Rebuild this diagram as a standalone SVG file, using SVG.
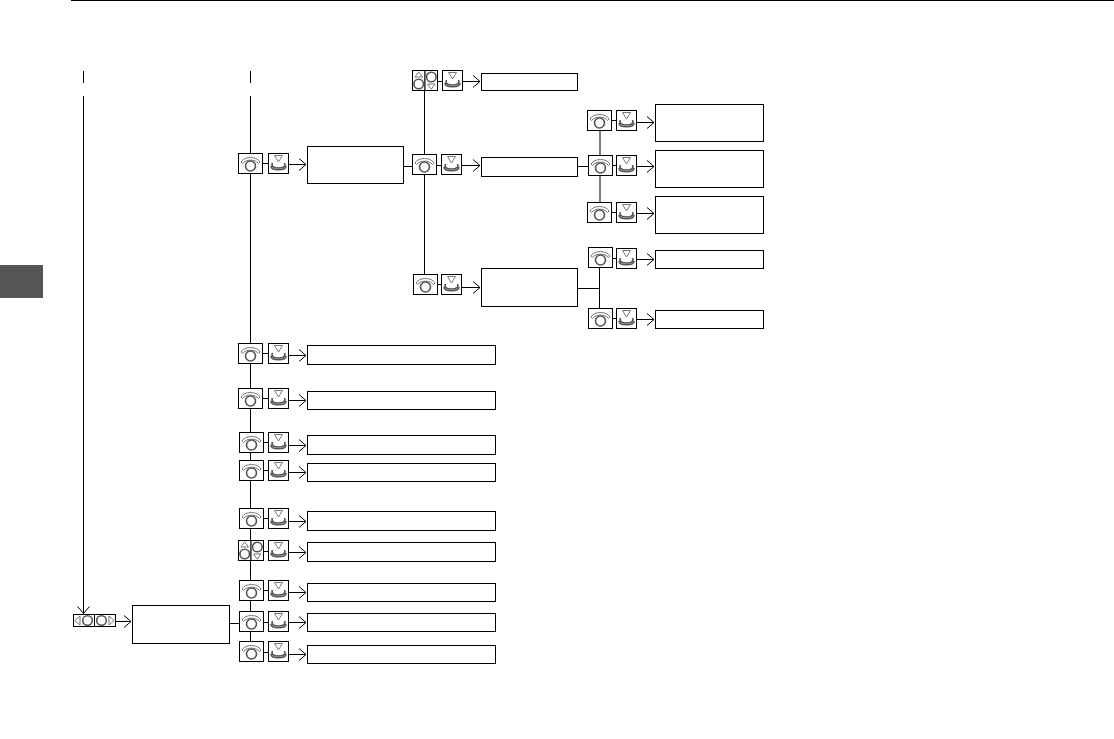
<svg xmlns="http://www.w3.org/2000/svg" xmlns:xlink="http://www.w3.org/1999/xlink" width="1114" height="739" viewBox="0 0 1114 739">
<style>
.l{stroke:#000;stroke-width:1;fill:none}
.b{stroke:#000;stroke-width:1;fill:#fff}
.g{stroke:#777;stroke-width:1;fill:none}
.d{stroke:#555;stroke-width:1.6;fill:none}
</style>
<defs>
<symbol id="rot" width="25" height="21" viewBox="0 0 25 21" overflow="visible">
<rect class="b" x="0.5" y="0.5" width="24" height="20"/>
<path class="g" d="M3 9C6 3 19 3 22 9L20.500 10.500C17 6 8 6 4.500 10.500Z"/>
<circle class="d" cx="12.500" cy="13" r="5"/>
</symbol>
<symbol id="push" width="21" height="21" viewBox="0 0 21 21" overflow="visible">
<rect class="b" x="0.500" y="0.500" width="20" height="20"/>
<path class="g" d="M6.500 2.500H14.500L10.500 9Z"/>
<path class="d" d="M4.500 10C3 13 5 15 10.500 15S18 13 16.500 10"/>
<path class="d" d="M3 13C3 18 18 18 18 13"/>
</symbol>
<symbol id="ud" width="26" height="21" viewBox="0 0 26 21" overflow="visible">
<rect class="b" x="0.500" y="0.500" width="12.500" height="20"/>
<rect class="b" x="13" y="0.500" width="12.500" height="20"/>
<path class="g" d="M3 7L6.700 1.800L10.500 7Z"/>
<circle class="d" cx="6.700" cy="14" r="4.800"/>
<path class="g" d="M15.500 14L19.300 19.200L23 14Z"/>
<circle class="d" cx="19.300" cy="7" r="4.800"/>
</symbol>
<symbol id="lr" width="43" height="13" viewBox="0 0 43 13" overflow="visible">
<rect class="b" x="0.500" y="0.500" width="21" height="12"/>
<rect class="b" x="21.500" y="0.500" width="21" height="12"/>
<path class="g" d="M7 2L1.800 6.500L7 11Z"/>
<circle class="d" cx="14.500" cy="6.500" r="4.800"/>
<path class="g" d="M36 2L41.200 6.500L36 11Z"/>
<circle class="d" cx="28.500" cy="6.500" r="4.800"/>
</symbol>
<marker id="a" markerUnits="userSpaceOnUse" markerWidth="10" markerHeight="14" refX="9" refY="7" orient="auto" overflow="visible">
<path d="M2 1L9 7L2 13" fill="none" stroke="#000" stroke-width="1"/>
</marker>
</defs>
<rect id="page-tab" x="0" y="265" width="43" height="33" fill="#555"/>
<path id="top-rule" class="l" d="M71 0.500H1114"/>
<g id="connectors">
<path class="l" d="M83.500 71V83M250.500 71V83M83.500 96V613.500" marker-end="url(#a)"/>
<path class="l" d="M250.500 96V642"/>
<path class="l" d="M424.500 90V275M403 166.500H413M578 166.500H589M600 130V203M578 288.500H599.500M599.500 267V309"/>
<path class="l" d="M230 623.500H240"/>
<path class="l" d="M263 163.500H269M612 120.500H617M612 165.500H617M612 212.500H617M612 258.500H617M612 318.500H617M437 81.500H443M437 165.500H442M437 284.500H443"/>
<path class="l" d="M263 353.500H269M263 398.500H269M263 442.500H269M263 470.500H269M263 518.500H269M263 551.500H269M263 590.500H269M263 622.500H269M263 652.500H269"/>
<g marker-end="url(#a)">
<path class="l" d="M288 164.500H306" marker-end="url(#a)"/>
<path class="l" d="M463 81.500H480" marker-end="url(#a)"/>
<path class="l" d="M461 165.500H480" marker-end="url(#a)"/>
<path class="l" d="M461 287.500H480" marker-end="url(#a)"/>
<path class="l" d="M636 122.500H654" marker-end="url(#a)"/>
<path class="l" d="M636 166.500H654" marker-end="url(#a)"/>
<path class="l" d="M636 213.500H654" marker-end="url(#a)"/>
<path class="l" d="M636 259.500H654" marker-end="url(#a)"/>
<path class="l" d="M636 319.500H654" marker-end="url(#a)"/>
<path class="l" d="M116 621.500H131" marker-end="url(#a)"/>
<path class="l" d="M288 355.500H306" marker-end="url(#a)"/>
<path class="l" d="M288 400.500H306" marker-end="url(#a)"/>
<path class="l" d="M288 445.500H306" marker-end="url(#a)"/>
<path class="l" d="M288 472.500H306" marker-end="url(#a)"/>
<path class="l" d="M288 521.500H306" marker-end="url(#a)"/>
<path class="l" d="M288 552.500H306" marker-end="url(#a)"/>
<path class="l" d="M288 592.500H306" marker-end="url(#a)"/>
<path class="l" d="M288 622.500H306" marker-end="url(#a)"/>
<path class="l" d="M288 654.500H306" marker-end="url(#a)"/>
</g>
</g>
<g id="controls">
<use href="#lr" x="73" y="614"/>
<use href="#rot" x="238" y="153"/><use href="#push" x="268" y="153"/>
<use href="#ud" x="412" y="70"/><use href="#push" x="442" y="70"/>
<use href="#rot" x="412" y="154"/><use href="#push" x="441" y="154"/>
<use href="#rot" x="413" y="274"/><use href="#push" x="441" y="274"/>
<use href="#rot" x="587" y="110"/><use href="#push" x="616" y="110"/>
<use href="#rot" x="588" y="155"/><use href="#push" x="616" y="155"/>
<use href="#rot" x="587" y="202"/><use href="#push" x="616" y="202"/>
<use href="#rot" x="588" y="247"/><use href="#push" x="616" y="248"/>
<use href="#rot" x="588" y="308"/><use href="#push" x="616" y="308"/>
<use href="#rot" x="238" y="343"/><use href="#push" x="268" y="343"/>
<use href="#rot" x="238" y="388"/><use href="#push" x="268" y="388"/>
<use href="#rot" x="239" y="432"/><use href="#push" x="268" y="432"/>
<use href="#rot" x="239" y="460"/><use href="#push" x="268" y="460"/>
<use href="#rot" x="239" y="508"/><use href="#push" x="268" y="508"/>
<use href="#ud" x="238" y="540"/><use href="#push" x="268" y="540"/>
<use href="#rot" x="239" y="580"/><use href="#push" x="268" y="580"/>
<use href="#rot" x="239" y="611"/><use href="#push" x="268" y="611"/>
<use href="#rot" x="239" y="641"/><use href="#push" x="268" y="641"/>
</g>
<g id="n1"><rect class="b" x="307.500" y="146.500" width="96" height="37"/></g>
<g id="n2"><rect class="b" x="481.500" y="73.500" width="96" height="17"/></g>
<g id="n3"><rect class="b" x="481.500" y="157.500" width="96" height="19"/></g>
<g id="n4"><rect class="b" x="481.500" y="268.500" width="96" height="38"/></g>
<g id="n5"><rect class="b" x="655.500" y="104.500" width="108" height="37"/></g>
<g id="n6"><rect class="b" x="655.500" y="150.500" width="108" height="37"/></g>
<g id="n7"><rect class="b" x="655.500" y="196.500" width="108" height="37"/></g>
<g id="n8"><rect class="b" x="655.500" y="250.500" width="108" height="18"/></g>
<g id="n9"><rect class="b" x="655.500" y="310.500" width="108" height="18"/></g>
<g id="n10"><rect class="b" x="132.500" y="605.500" width="97" height="38"/></g>
<g id="n11"><rect class="b" x="307.500" y="345.500" width="188" height="19"/></g>
<g id="n12"><rect class="b" x="307.500" y="391.500" width="188" height="18"/></g>
<g id="n13"><rect class="b" x="307.500" y="435.500" width="188" height="19"/></g>
<g id="n14"><rect class="b" x="307.500" y="463.500" width="188" height="18"/></g>
<g id="n15"><rect class="b" x="307.500" y="511.500" width="188" height="19"/></g>
<g id="n16"><rect class="b" x="307.500" y="542.500" width="188" height="19"/></g>
<g id="n17"><rect class="b" x="307.500" y="583.500" width="188" height="18"/></g>
<g id="n18"><rect class="b" x="307.500" y="613.500" width="188" height="18"/></g>
<g id="n19"><rect class="b" x="307.500" y="645.500" width="188" height="18"/></g>
</svg>
